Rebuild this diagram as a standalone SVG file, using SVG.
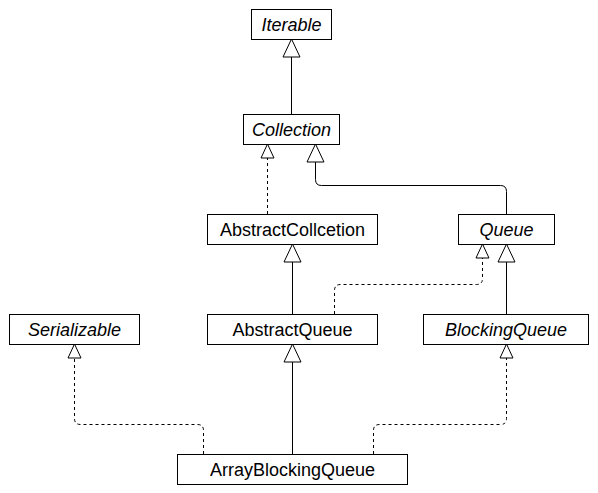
<svg xmlns="http://www.w3.org/2000/svg" width="598" height="493" viewBox="0 0 598 493">
<style>
.box{fill:#fff;stroke:#000;stroke-width:1}
.lbl{font-family:"Liberation Sans",Arial,sans-serif;font-size:18px;fill:#000;text-anchor:middle}
.it{font-style:italic}
.edge{fill:none;stroke:#000;stroke-width:1}
.dash{stroke-dasharray:3 3}
.ext{marker-end:url(#tri)}
.imp{marker-end:url(#triS)}
</style>
<defs>
<marker id="tri" viewBox="-1 -1 20 19" refX="18" refY="8.5" markerWidth="20" markerHeight="19" markerUnits="userSpaceOnUse" orient="auto" overflow="visible">
<path d="M18,8.5 L0,0 L0,17 Z" fill="#fff" stroke="#000" stroke-width="1" stroke-dasharray="none"/>
</marker>
<marker id="triS" viewBox="-1 -1 16 15" refX="14" refY="6.5" markerWidth="16" markerHeight="15" markerUnits="userSpaceOnUse" orient="auto" overflow="visible">
<path d="M14,6.5 L0,0 L0,13 Z" fill="#fff" stroke="#000" stroke-width="1" stroke-dasharray="none"/>
</marker>
</defs>
<rect width="598" height="493" fill="#fff"/>
<g id="connectors">
<path class="edge ext" d="M291.5,114 V39"/>
<path class="edge dash imp" d="M267.5,214 V144"/>
<path class="edge ext" d="M506.5,214 V191.5 Q506.5,185.5 500.5,185.5 H321.5 Q315.5,185.5 315.5,179.5 V144"/>
<path class="edge ext" d="M292.5,314 V244"/>
<path class="edge dash imp" d="M334.5,314 V290.5 Q334.5,284.5 340.5,284.5 H476.5 Q482.5,284.5 482.5,278.5 V244"/>
<path class="edge ext" d="M506.5,314 V244"/>
<path class="edge ext" d="M292.5,454 V344"/>
<path class="edge dash imp" d="M203.5,454 V430.5 Q203.5,424.5 197.5,424.5 H80.5 Q74.5,424.5 74.5,418.5 V344"/>
<path class="edge dash imp" d="M373.5,454 V430.5 Q373.5,424.5 379.5,424.5 H500.5 Q506.5,424.5 506.5,418.5 V344"/>
</g>
<g id="Iterable"><rect class="box" x="251.5" y="9.5" width="80" height="30"/><text class="lbl it" x="291.5" y="31">Iterable</text></g>
<g id="Collection"><rect class="box" x="243.5" y="114.5" width="96" height="30"/><text class="lbl it" x="291.5" y="136">Collection</text></g>
<g id="AbstractCollcetion"><rect class="box" x="207.5" y="214.5" width="170" height="30"/><text class="lbl" x="292.5" y="236">AbstractCollcetion</text></g>
<g id="Queue"><rect class="box" x="458.5" y="214.5" width="96" height="30"/><text class="lbl it" x="506.5" y="236">Queue</text></g>
<g id="Serializable"><rect class="box" x="9.5" y="314.5" width="130" height="30"/><text class="lbl it" x="74.5" y="336">Serializable</text></g>
<g id="AbstractQueue"><rect class="box" x="207.5" y="314.5" width="170" height="30"/><text class="lbl" x="292.5" y="336">AbstractQueue</text></g>
<g id="BlockingQueue"><rect class="box" x="423.5" y="314.5" width="165" height="30"/><text class="lbl it" x="506" y="336">BlockingQueue</text></g>
<g id="ArrayBlockingQueue"><rect class="box" x="177.5" y="454.5" width="230" height="30"/><text class="lbl" x="292.5" y="476">ArrayBlockingQueue</text></g>
</svg>
